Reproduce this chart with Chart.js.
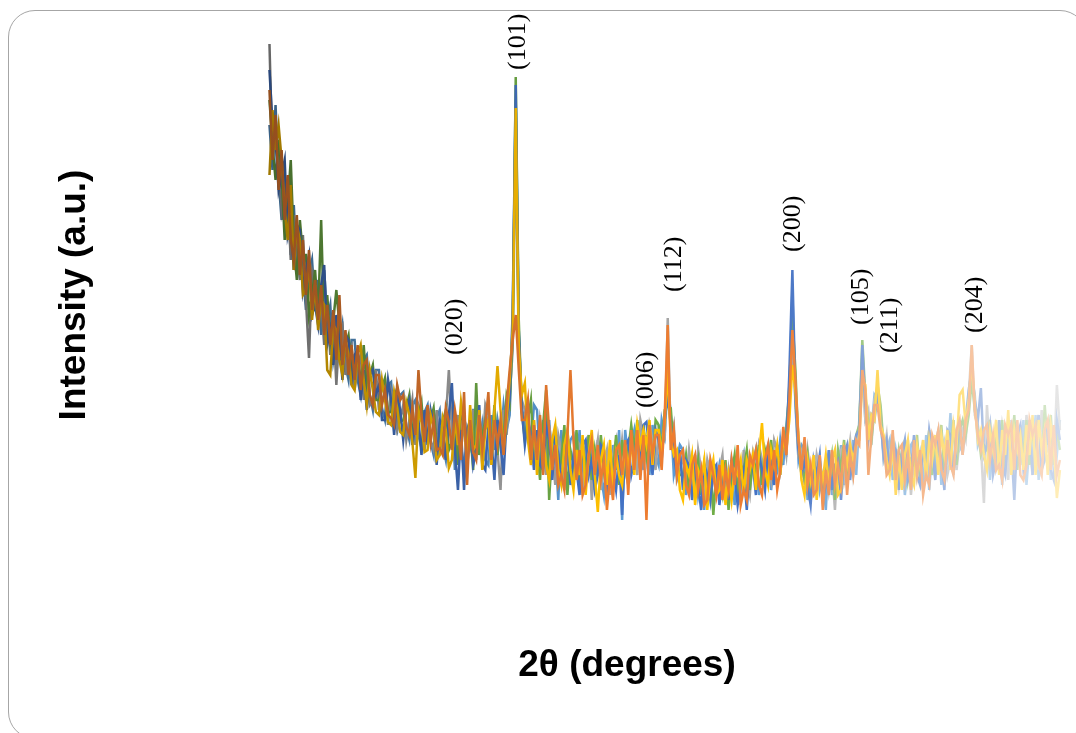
<!DOCTYPE html>
<html><head><meta charset="utf-8">
<script src="https://cdn.jsdelivr.net/npm/chart.js@4.4.1/dist/chart.umd.min.js"></script>
<style>
html,body{margin:0;padding:0;background:#fff;overflow:hidden;width:1076px;height:733px;}
#frame{position:absolute;left:8px;top:10px;width:1079px;height:729px;border:1.5px solid #a6a6a6;border-radius:27px;box-sizing:border-box;}
#wrap{position:absolute;left:0;top:0;width:1076px;height:733px;}
</style></head><body>
<div id="frame"></div>
<div id="wrap"><canvas id="c" width="1076" height="733"></canvas></div>
<script>
// 2θ sampling grid (degrees)
const twoTheta = [
5,5.25,5.5,5.75,6,6.25,6.5,6.75,7,7.25,7.5,7.75,8,8.25,8.5,8.75,9,9.25,9.5,9.75,
10,10.25,10.5,10.75,11,11.25,11.5,11.75,12,12.25,12.5,12.75,13,13.25,13.5,13.75,14,14.25,14.5,14.75,
15,15.25,15.5,15.75,16,16.25,16.5,16.75,17,17.25,17.5,17.75,18,18.25,18.5,18.75,19,19.25,19.5,19.75,
20,20.25,20.5,20.75,21,21.25,21.5,21.75,22,22.25,22.5,22.75,23,23.25,23.5,23.75,24,24.25,24.5,24.75,
25,25.25,25.5,25.75,26,26.25,26.5,26.75,27,27.25,27.5,27.75,28,28.25,28.5,28.75,29,29.25,29.5,29.75,
30,30.25,30.5,30.75,31,31.25,31.5,31.75,32,32.25,32.5,32.75,33,33.25,33.5,33.75,34,34.25,34.5,34.75,
35,35.25,35.5,35.75,36,36.25,36.5,36.75,37,37.25,37.5,37.75,38,38.25,38.5,38.75,39,39.25,39.5,39.75,
40,40.25,40.5,40.75,41,41.25,41.5,41.75,42,42.25,42.5,42.75,43,43.25,43.5,43.75,44,44.25,44.5,44.75,
45,45.25,45.5,45.75,46,46.25,46.5,46.75,47,47.25,47.5,47.75,48,48.25,48.5,48.75,49,49.25,49.5,49.75,
50,50.25,50.5,50.75,51,51.25,51.5,51.75,52,52.25,52.5,52.75,53,53.25,53.5,53.75,54,54.25,54.5,54.75,
55,55.25,55.5,55.75,56,56.25,56.5,56.75,57,57.25,57.5,57.75,58,58.25,58.5,58.75,59,59.25,59.5,59.75,
60,60.25,60.5,60.75,61,61.25,61.5,61.75,62,62.25,62.5,62.75,63,63.25,63.5,63.75,64,64.25,64.5,64.75,
65,65.25,65.5,65.75,66,66.25,66.5,66.75,67,67.25,67.5,67.75,68,68.25,68.5,68.75,69,69.25,69.5,69.75,
70];

const seriesBlue = [
500,445,430,380, 395,410,335,350, 300,345,340,280, 300,315,255,265, 245,285,305,225,
240,205,255,230, 190,235,230,185, 215,220,170,200, 160,195,200,175, 185,150,150,190,
170,135,175,160, 130,160,170,125, 150,150,115,160, 125,160,145,105, 150,145,110,155,
187,120,80,140, 80,140,150,105, 120,165,105,100, 145,130,90,150, 125,95,150,170,
260,485,240,160, 125,150,135,100, 140,105,100,145, 130,90,135,115, 90,120,130,85,
115,100,75,125, 130,95,110,80, 95,125,120,70, 120,100,80,115, 55,125,130,95,
110,140,100,145, 148,120,95,140, 130,110,150,175, 145,115,95,120, 80,110,105,70,
100,85,60,105, 95,70,100,105, 65,95,100,70, 110,95,65,85, 100,60,110,105,
75,115,100,80, 120,110,85,125, 95,130,120,197, 300,175,120,95, 110,85,65,110,
95,115,70,85, 120,80,105,110, 70,115,125,90, 120,135,140,225, 165,130,155,150,
175,150,115,130, 100,125,120,80, 115,130,90,100, 135,95,85,125, 100,140,120,90,
130,110,80,140, 135,100,120,150, 115,150,180,200, 170,150,182,115, 125,145,95,110,
150,105,95,140, 125,70,135,145, 100,115,150,95, 130,155,100,110, 145,100,90,150,
130];

const seriesOrange = [
480,410,455,380, 420,350,395,330, 310,355,295,330, 275,320,260,290, 250,285,235,265,
225,260,210,275, 205,240,195,225, 190,225,180,205, 210,175,165,195, 195,165,180,155,
152,145,185,170, 175,143,135,162, 135,200,155,128, 165,128,150,120, 122,115,162,148,
120,160,140,110, 178,85,150,118, 110,155,120,145, 178,110,150,125, 150,115,165,200,
230,255,200,150, 150,170,110,145, 110,155,95,185, 140,100,125,85, 95,80,135,200,
130,90,120,75, 85,115,130,95, 125,90,110,60, 95,70,120,125, 95,130,75,140,
100,140,90,135, 50,145,115,135, 135,100,155,245, 120,140,95,115, 120,85,75,105,
115,80,100,65, 70,110,95,75, 105,70,100,80, 110,85,125,65, 80,70,115,105,
120,85,75,110, 125,90,120,80, 100,143,115,170, 240,190,130,100, 133,85,105,75,
80,115,60,100, 75,120,85,105, 85,125,75,115, 95,130,125,200, 180,95,135,165,
165,140,130,95, 100,140,90,120, 125,90,115,80, 130,95,120,75, 95,85,135,125,
140,100,90,130, 105,95,140,150, 115,150,160,225, 160,135,120,140, 145,110,135,100,
105,90,145,135, 145,100,150,95, 90,105,150,135, 145,105,95,140, 150,100,145,95,
110];

const seriesGray = [
526,410,445,420, 360,380,375,310, 355,320,290,335, 270,212,300,290, 250,270,225,265,
215,250,185,240, 245,195,220,225, 180,205,215,170, 205,165,170,200, 160,185,190,145,
180,170,140,150, 165,130,150,170, 125,165,155,120, 150,130,120,160, 115,140,150,200,
140,110,155,120, 150,105,130,160, 110,145,120,165, 155,105,150,120, 80,160,135,175,
220,440,215,170, 160,140,115,150, 105,150,130,95, 145,120,85,135, 120,80,140,105,
90,130,125,80, 115,135,70,110, 130,80,105,120, 75,115,130,100, 130,100,85,140,
125,95,150,135, 110,145,130,100, 140,125,130,252, 130,145,90,100, 115,85,120,95,
75,120,100,80, 110,95,60,90, 100,115,70,100, 75,105,110,65, 120,90,75,115,
95,125,110,85, 110,90,130,120, 100,135,115,160, 225,170,115,120, 85,120,95,80,
115,100,75,110, 80,105,60,115, 120,90,110,130, 95,120,145,195, 150,160,125,170,
180,160,115,135, 95,130,110,85, 120,90,130,75, 110,125,95,130, 95,135,110,125,
140,100,125,95, 110,145,100,130, 140,130,175,225, 155,145,125,67, 165,115,130,100,
110,145,125,90, 150,100,115,145, 105,155,125,95, 135,100,160,115, 120,140,105,185,
140];

const seriesGold = [
395,460,420,445, 410,360,330,385, 300,345,330,275, 280,305,250,285, 240,270,265,200,
195,245,240,210, 195,230,215,185, 180,215,225,190, 165,200,180,158, 155,190,170,148,
145,178,162,138, 135,168,155,128, 92,160,148,118, 120,155,142,110, 115,152,140,102,
110,150,125,168, 145,110,165,120, 125,160,100,140, 150,105,160,204, 160,120,150,190,
240,462,225,175, 187,130,105,150, 95,140,130,105, 90,130,145,100, 85,125,140,100,
80,120,95,135, 75,115,140,95, 58,110,125,85, 130,80,115,95, 85,125,100,130,
95,145,125,140, 125,150,105,140, 140,115,150,200, 130,115,120,80, 70,105,95,115,
65,100,90,110, 60,95,110,75, 80,110,65,95, 70,100,95,110, 75,110,100,115,
80,115,147,100, 85,120,105,125, 95,130,120,150, 205,180,135,90, 75,110,90,115,
70,105,90,115, 85,110,120,75, 80,120,105,125, 110,125,130,190, 185,130,155,150,
200,145,135,110, 95,125,75,115, 80,115,130,95, 85,125,105,130, 90,130,110,135,
95,135,115,140, 100,145,125,175, 180,145,170,208, 165,130,140,115, 100,140,120,150,
95,140,115,160, 95,140,120,135, 100,145,115,155, 95,150,120,140, 95,145,125,72,
100];

const seriesLightBlue = [
445,400,465,390, 350,395,375,315, 365,305,320,300, 260,295,310,265, 290,235,300,250,
265,210,230,225, 245,205,190,230, 230,190,175,210, 215,175,160,200, 200,162,150,185,
188,150,140,175, 178,142,130,165, 170,135,122,158, 165,128,115,152, 160,125,110,150,
158,100,145,125, 100,140,125,160, 160,120,145,110, 105,155,120,150, 130,165,140,155,
250,470,235,165, 140,160,125,165, 160,110,150,120, 150,100,120,70, 140,90,110,130,
135,95,140,75, 130,100,120,80, 130,95,75,120, 85,125,100,140, 50,140,110,125,
140,110,130,100, 135,95,145,115, 105,150,135,190, 155,95,110,125, 120,75,100,90,
115,75,95,60, 110,70,95,85, 105,85,100,70, 110,65,90,100, 115,70,95,105,
120,75,100,115, 125,80,110,100, 130,105,145,175, 280,165,110,125, 120,70,100,85,
115,80,95,60, 120,75,100,90, 125,85,115,100, 130,95,150,215, 150,155,140,175,
170,155,110,120, 130,90,120,100, 115,75,105,125, 130,95,115,80, 135,80,120,105,
140,85,125,110, 157,95,130,120, 125,155,165,195, 175,125,135,130, 145,90,130,115,
150,85,125,110, 145,90,130,105, 150,85,125,110, 155,90,130,115, 150,90,140,115,
150];

const seriesGreen = [
470,425,390,430, 395,330,365,410, 325,290,350,315, 315,255,275,300, 255,350,240,275,
230,250,280,245, 210,225,235,200, 195,210,185,225, 180,195,205,170, 170,182,192,158,
158,172,182,148, 150,162,175,138, 142,155,168,130, 135,150,162,125, 130,148,160,120,
128,145,105,155, 150,120,140,100, 187,115,135,150, 140,125,165,115, 145,130,175,165,
235,493,250,158, 130,150,170,110, 125,90,145,180, 70,125,140,95, 110,145,75,120,
105,140,85,125, 100,135,90,120, 95,135,100,75, 110,95,135,85, 130,100,120,145,
120,150,105,145, 115,140,100,150, 145,120,160,165, 162,120,105,95, 95,115,80,110,
90,110,75,105, 85,105,55,100, 90,75,110,60, 95,115,75,105, 100,120,80,110,
100,125,85,120, 105,130,90,115, 110,125,135,185, 255,200,125,105, 90,115,80,105,
90,110,70,105, 95,115,70,120, 100,130,90,120, 105,135,145,230, 175,145,130,160,
185,165,125,100, 105,135,95,120, 100,130,90,110, 105,135,90,120, 110,140,95,125,
115,145,100,130, 120,150,105,140, 150,135,155,190, 160,140,115,125, 120,150,105,140,
115,150,100,140, 120,155,100,140, 115,150,105,140, 120,155,100,165, 125,155,105,140,
120];

// Peak annotations
const peakLabels = ['(020)','(101)','(006)','(112)','(200)','(105)','(211)','(204)'];
const peakTheta  = [20.3, 25.45, 35.96, 38.26, 48.05, 53.64, 56.03, 63.02];
const peakLabelY = [215, 500, 162, 278, 318, 245, 217, 237];

// listed top-most first (Chart.js draws the first dataset on top)
const seriesList   = [seriesOrange, seriesGold, seriesBlue, seriesGreen, seriesGray, seriesLightBlue];
const seriesNames  = ['S2','S4','S1','S6','S3','S5'];
const seriesColors = ['#ED7D31','#FFC000','#4472C4','#70AD47','#A5A5A5','#5B9BD5'];

// colour fade along 2θ: negative = darker shade, positive = lighter tint
const fadeTheta  = [5, 15, 25, 33, 47, 54, 63, 70];
const fadeAmount = [-0.38, -0.22, -0.1, 0, 0, 0.35, 0.55, 0.72];

function mix(hex, amt) {
  const n = parseInt(hex.slice(1), 16);
  let r = n >> 16, g = (n >> 8) & 255, b = n & 255;
  const t = amt < 0 ? 0 : 255, a = Math.abs(amt);
  r = Math.round(r + (t - r) * a); g = Math.round(g + (t - g) * a); b = Math.round(b + (t - b) * a);
  return `rgb(${r},${g},${b})`;
}

const gradCache = {};
function fadeColor(base) {
  return (ctx) => {
    const chart = ctx.chart;
    const xs = chart.scales && chart.scales.x;
    if (!chart.chartArea || !xs) return base;
    const key = base + chart.chartArea.left + '_' + chart.chartArea.right;
    if (gradCache[key]) return gradCache[key];
    const t0 = fadeTheta[0], t1 = fadeTheta[fadeTheta.length - 1];
    const g = chart.ctx.createLinearGradient(xs.getPixelForValue(t0), 0, xs.getPixelForValue(t1), 0);
    fadeTheta.forEach((t, i) => g.addColorStop((t - t0) / (t1 - t0), mix(base, fadeAmount[i])));
    gradCache[key] = g;
    return g;
  };
}

const peakPlugin = {
  id: 'peakLabels',
  afterDatasetsDraw(chart) {
    const {ctx, scales: {x, y}} = chart;
    ctx.save();
    ctx.fillStyle = '#000';
    ctx.font = "26px 'Liberation Serif', 'Times New Roman', serif";
    ctx.textAlign = 'left';
    ctx.textBaseline = 'middle';
    peakLabels.forEach((t, i) => {
      ctx.save();
      ctx.translate(x.getPixelForValue(peakTheta[i]), y.getPixelForValue(peakLabelY[i]));
      ctx.rotate(-Math.PI / 2);
      ctx.fillText(t, 0, 0);
      ctx.restore();
    });
    ctx.restore();
  }
};

const titleFont = {family: "'Liberation Sans', Arial, sans-serif", size: 37, weight: 'bold'};

new Chart(document.getElementById('c'), {
  type: 'line',
  data: {
    datasets: seriesList.map((s, k) => ({
      label: seriesNames[k],
      data: s.map((v, i) => ({x: twoTheta[i], y: v})),
      borderColor: fadeColor(seriesColors[k]),
      borderWidth: 2.5,
      pointRadius: 0,
      tension: 0,
      fill: false
    }))
  },
  options: {
    responsive: false,
    animation: false,
    devicePixelRatio: 1,
    layout: {padding: {left: 49, right: 10, top: 20, bottom: 41}},
    plugins: {legend: {display: false}, tooltip: {enabled: false}},
    scales: {
      x: {
        type: 'linear', min: -1.7, max: 70.5,
        ticks: {display: false}, grid: {display: false}, border: {display: false},
        title: {display: true, text: '2θ (degrees)', font: titleFont, color: '#000'},
        afterFit: (s) => { s.height = 122; }
      },
      y: {
        type: 'linear', min: 0, max: 550,
        ticks: {display: false}, grid: {display: false}, border: {display: false},
        title: {display: true, text: 'Intensity (a.u.)', font: titleFont, color: '#000'},
        afterFit: (s) => { s.width = 139; }
      }
    }
  },
  plugins: [peakPlugin]
});
</script>
</body></html>
